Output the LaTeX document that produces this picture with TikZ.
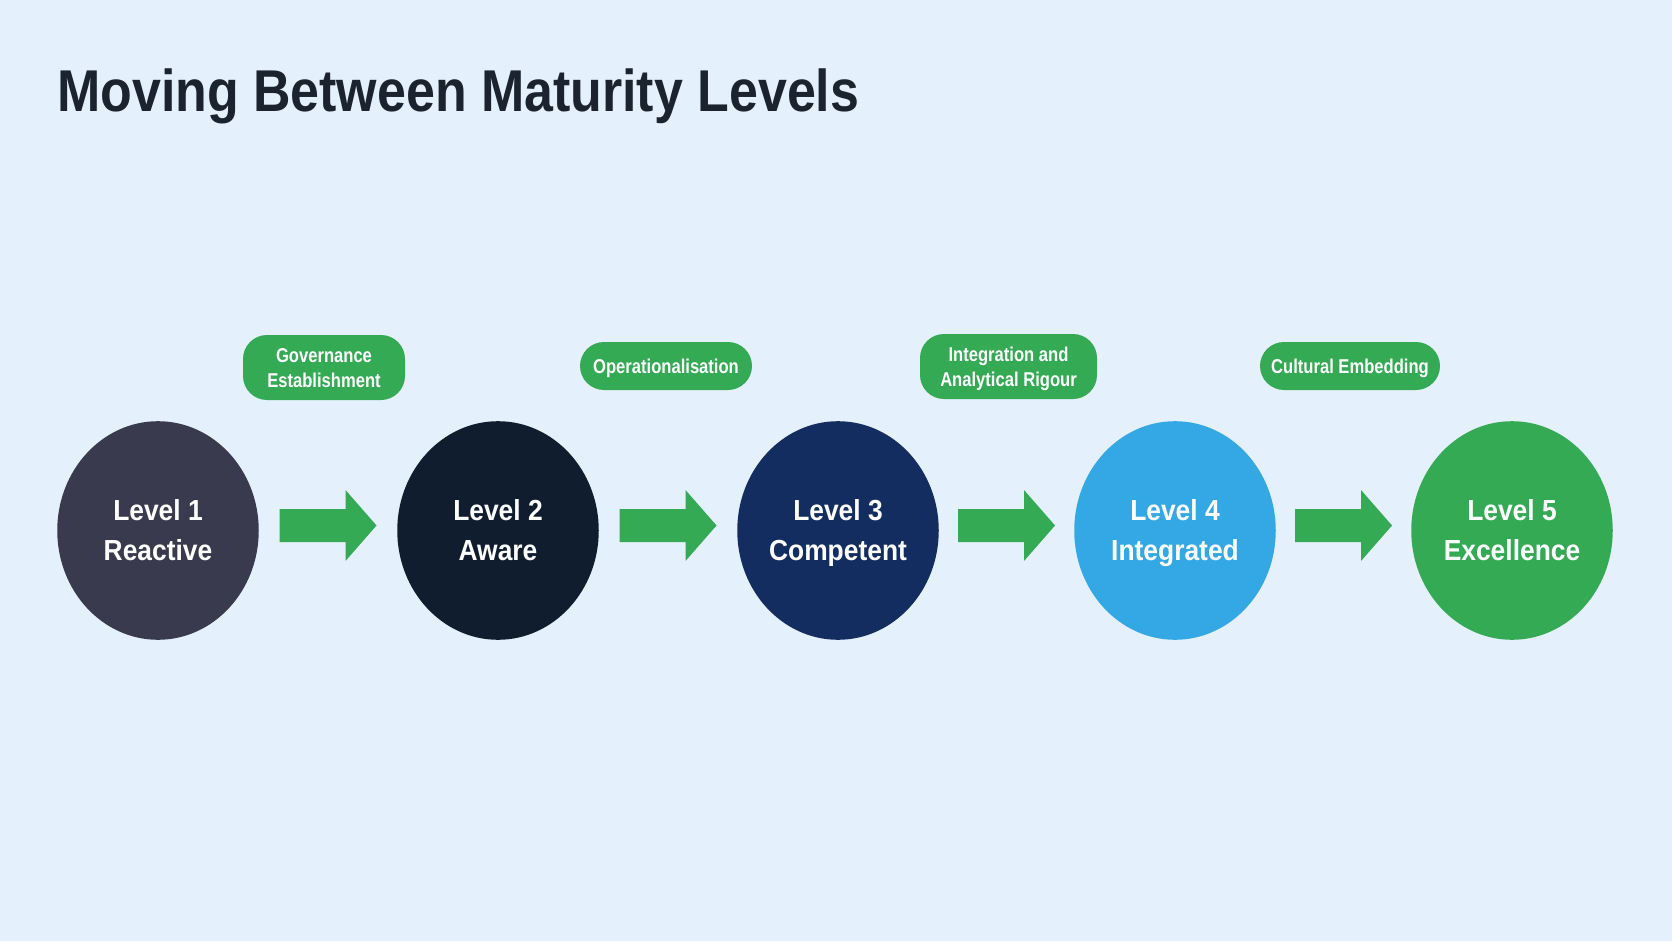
\documentclass[tikz,border=0pt]{standalone}
\usepackage{fontspec}
\setmainfont{Liberation Sans}
\newfontfamily\titlefont[FakeStretch=0.88]{Liberation Sans}
\newfontfamily\condfont[FakeStretch=0.91]{Liberation Sans}
\newfontfamily\pillfont[FakeStretch=0.83]{Liberation Sans}
\usetikzlibrary{calc,shapes.geometric}
\definecolor{bg}{RGB}{228,240,251}
\definecolor{titlecol}{RGB}{27,35,47}
\definecolor{cone}{RGB}{57,58,77}
\definecolor{ctwo}{RGB}{15,29,47}
\definecolor{cthree}{RGB}{19,45,96}
\definecolor{cfour}{RGB}{51,168,228}
\definecolor{lvgreen}{RGB}{52,170,84}
\newcommand\lvlstrut{\rule[-10.5pt]{0pt}{40pt}}
\newcommand\pillstrut{\rule[-4.6pt]{0pt}{24.6pt}}
\tikzset{
  level/.style={ellipse, minimum width=201.5pt, minimum height=218.6pt, inner sep=0pt,
    text=white, align=center, font=\condfont\bfseries\fontsize{29}{40}\selectfont},
  pill/.style={fill=lvgreen, rounded corners=24pt, text=white, align=center,
    inner xsep=8pt, inner ysep=0pt, minimum height=48pt,
    font=\pillfont\bfseries\fontsize{20}{25}\selectfont},
  blockarrow/.style={fill=lvgreen}
}
\newcommand\blockarr[1]{\fill[blockarrow] (#1) ++(-48.5,-16.5) -- ++(66,0) -- ++(0,-19) -- ++(31,35.5) -- ++(-31,35.5) -- ++(0,-19) -- ++(-66,0) -- cycle;}
\begin{document}
\begin{tikzpicture}[x=1pt,y=-1pt]
\fill[bg] (0,0) rectangle (1672,941);
\useasboundingbox (0,0) rectangle (1672,941);
\node[anchor=base west, inner sep=0pt, text=titlecol, font=\titlefont\bfseries\fontsize{59}{70}\selectfont] (title) at (57,111.7) {Moving Between Maturity Levels};
\node[level, fill=cone]   (l1) at (158,530.5)  {\lvlstrut Level 1\\\lvlstrut Reactive};
\node[level, fill=ctwo]   (l2) at (498,530.5)  {\lvlstrut Level 2\\\lvlstrut Aware};
\node[level, fill=cthree] (l3) at (838,530.5)  {\lvlstrut Level 3\\\lvlstrut Competent};
\node[level, fill=cfour]  (l4) at (1175,530.5) {\lvlstrut Level 4\\\lvlstrut Integrated};
\node[level, fill=lvgreen](l5) at (1512,530.5) {\lvlstrut Level 5\\\lvlstrut Excellence};
\coordinate (m12) at ($(l1.east)!0.5!(l2.west)+(0,-5)$);
\coordinate (m23) at ($(l2.east)!0.5!(l3.west)+(0,-5)$);
\coordinate (m34) at ($(l3.east)!0.5!(l4.west)+(0,-5)$);
\coordinate (m45) at ($(l4.east)!0.5!(l5.west)+(0,-5)$);
\blockarr{m12}
\blockarr{m23}
\blockarr{m34}
\blockarr{m45}
\node[pill, minimum width=162pt, minimum height=65pt] (p1) at (324,367.5) {\pillstrut Governance\\\pillstrut Establishment};
\node[pill, minimum width=172pt] (p2) at (666,366) {\pillstrut Operationalisation};
\node[pill, minimum width=177pt, minimum height=65pt] (p3) at (1008.5,366.5) {\pillstrut Integration and\\\pillstrut Analytical Rigour};
\node[pill, minimum width=180pt] (p4) at (1350,366) {\pillstrut Cultural Embedding};
\end{tikzpicture}
\end{document}
